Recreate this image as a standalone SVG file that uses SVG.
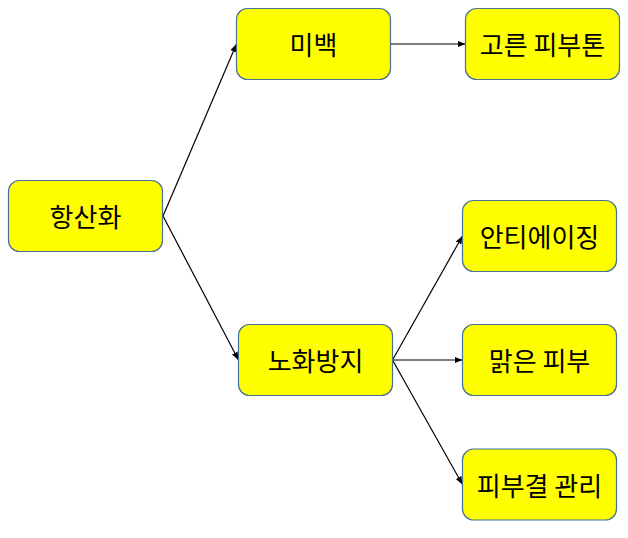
<svg xmlns="http://www.w3.org/2000/svg" width="628" height="538" viewBox="0 0 628 538">
<style>
.node rect{fill:#FFFF00;stroke:#41719C;stroke-width:1.2}
.node text{font-family:"Noto Sans CJK KR","Noto Sans",sans-serif;font-size:26px;fill:#000;text-anchor:middle;dominant-baseline:central}
.edges line{stroke:#000;stroke-width:1.2;marker-end:url(#arr)}
</style>
<defs>
<marker id="arr" viewBox="0 0 10 10" refX="10" refY="5" markerWidth="8" markerHeight="8" markerUnits="userSpaceOnUse" orient="auto">
<path d="M0,1 L10,5 L0,9 Z" fill="#000"/>
</marker>
</defs>
<rect width="628" height="538" fill="#fff"/>
<g class="edges">
<line x1="163" y1="216" x2="236.5" y2="44"/>
<line x1="163" y1="216" x2="238.5" y2="360"/>
<line x1="390" y1="44" x2="465.5" y2="44"/>
<line x1="392.5" y1="360" x2="462.5" y2="236"/>
<line x1="392.5" y1="360" x2="462.5" y2="360"/>
<line x1="392.5" y1="360" x2="462.5" y2="484.5"/>
</g>
<g id="n1" class="node"><rect x="8.5" y="180.5" width="154" height="71" rx="11"/><text x="85.5" y="215">항산화</text></g>
<g id="n2" class="node"><rect x="236.5" y="8.5" width="154" height="71" rx="11"/><text x="313.5" y="43">미백</text></g>
<g id="n3" class="node"><rect x="465.5" y="8.5" width="154" height="71" rx="11"/><text x="542.5" y="43">고른 피부톤</text></g>
<g id="n4" class="node"><rect x="238.5" y="324.5" width="154" height="71" rx="11"/><text x="315.5" y="359">노화방지</text></g>
<g id="n5" class="node"><rect x="462.5" y="200.5" width="154" height="71" rx="11"/><text x="539.5" y="235">안티에이징</text></g>
<g id="n6" class="node"><rect x="462.5" y="324.5" width="154" height="71" rx="11"/><text x="539.5" y="359">맑은 피부</text></g>
<g id="n7" class="node"><rect x="462.5" y="449" width="154" height="71" rx="11"/><text x="539.5" y="484">피부결 관리</text></g>
</svg>
